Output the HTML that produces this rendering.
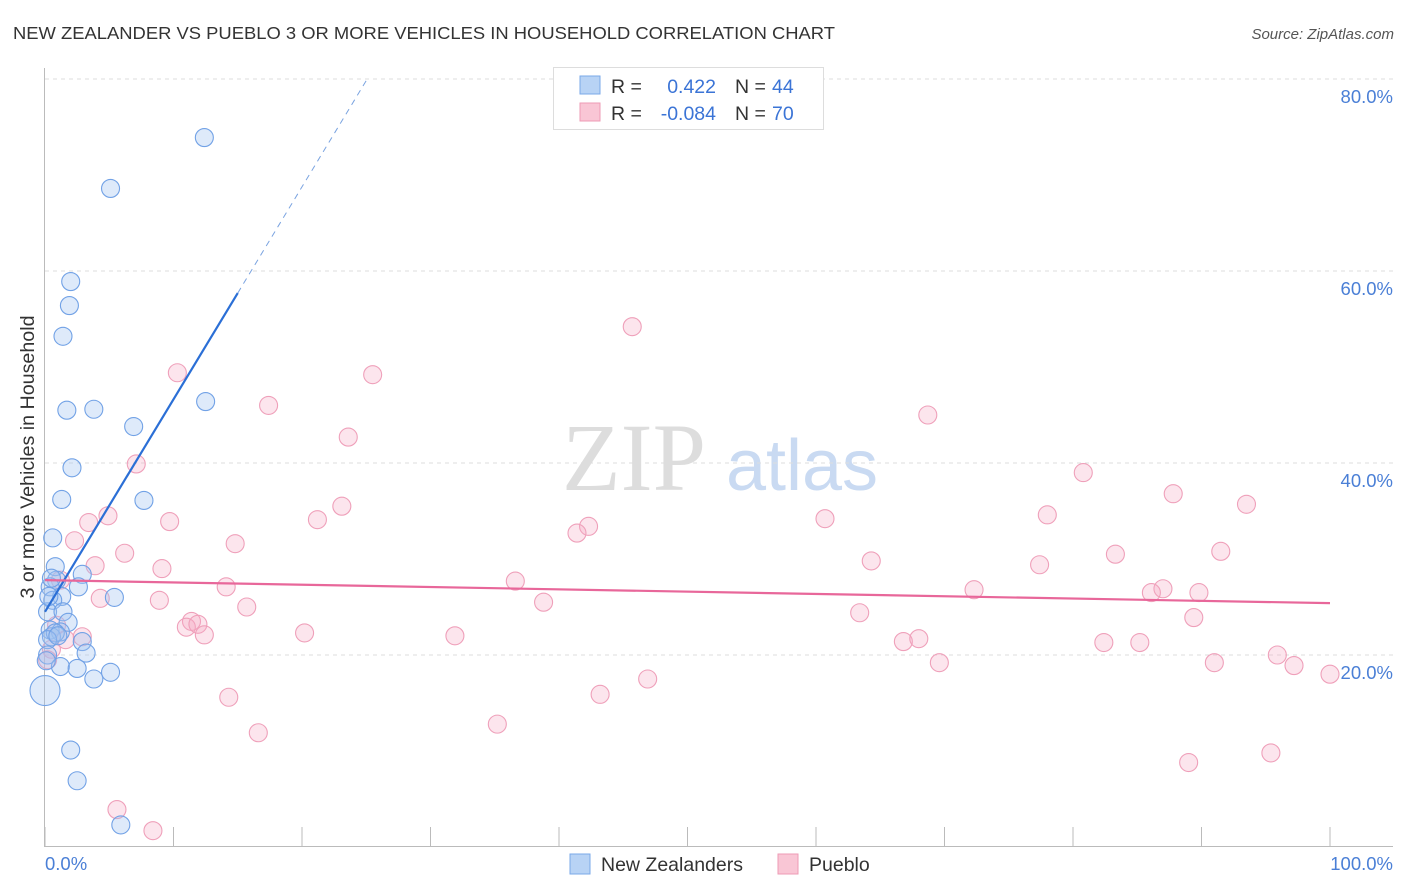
<!DOCTYPE html>
<html><head><meta charset="utf-8"><style>
body{margin:0;background:#fff;font-family:"Liberation Sans",sans-serif;}
svg{display:block}
</style></head><body>
<svg width="1406" height="892" xmlns="http://www.w3.org/2000/svg">
<text x="13" y="39" font-size="17.5" fill="#333" textLength="822" lengthAdjust="spacingAndGlyphs">NEW ZEALANDER VS PUEBLO 3 OR MORE VEHICLES IN HOUSEHOLD CORRELATION CHART</text>
<text x="1394" y="39" font-size="15" fill="#555" font-style="italic" text-anchor="end">Source: ZipAtlas.com</text>
<g>
<text x="634" y="490" font-size="96" fill="#ddd" font-family="Liberation Serif,serif" text-anchor="middle">ZIP</text>
<text x="802" y="490" font-size="72" fill="#c9daf2" text-anchor="middle">atlas</text>
</g>
<g id="grid"></g>
<line x1="44.5" y1="68" x2="44.5" y2="846" stroke="#bbb"/>
<line x1="44" y1="846.5" x2="1393" y2="846.5" stroke="#bbb"/>
<g id="xticks"></g>
<text transform="translate(34,457) rotate(-90)" font-size="19" fill="#333" text-anchor="middle" textLength="283" lengthAdjust="spacingAndGlyphs">3 or more Vehicles in Household</text>
<text x="45" y="870" font-size="18.5" fill="#4a7fd6">0.0%</text>
<text x="1393" y="870" font-size="18.5" fill="#4a7fd6" text-anchor="end">100.0%</text>
<g id="pts"></g>
<g id="lines"></g>
<g>
<rect x="553.5" y="67.5" width="270" height="62" fill="#fff" stroke="#ddd"/>
<rect x="580" y="76" width="20" height="18" fill="#b8d3f5" stroke="#7aa8e8"/>
<rect x="580" y="103" width="20" height="18" fill="#f9c6d5" stroke="#ee9bb5"/>
<text x="611" y="93" font-size="19.5" fill="#333">R =</text><text x="716" y="93" font-size="19.5" fill="#3b74d6" text-anchor="end">0.422</text>
<text x="735" y="93" font-size="19.5" fill="#333">N =</text><text x="772" y="93" font-size="19.5" fill="#3b74d6">44</text>
<text x="611" y="120" font-size="19.5" fill="#333">R =</text><text x="716" y="120" font-size="19.5" fill="#3b74d6" text-anchor="end">-0.084</text>
<text x="735" y="120" font-size="19.5" fill="#333">N =</text><text x="772" y="120" font-size="19.5" fill="#3b74d6">70</text>
</g>
<g>
<rect x="570" y="854" width="20" height="20" fill="#b8d3f5" stroke="#7aa8e8"/>
<text x="601" y="871" font-size="19.5" fill="#333">New Zealanders</text>
<rect x="778" y="854" width="20" height="20" fill="#f9c6d5" stroke="#ee9bb5"/>
<text x="809" y="871" font-size="19.5" fill="#333">Pueblo</text>
</g>
</svg>
<script>
const yTicks=[20,40,60,80];
const xTickVals=[0,10,20,30,40,50,60,70,80,90,100];
const blueX=[12.4,5.1,2.0,1.9,1.4,1.7,3.8,6.9,12.5,2.1,1.3,7.7,0.6,0.8,5.4,2.9,0.9,0.4,2.6,1.3,0.6,0.2,1.4,1.8,0.4,1.2,0.5,0.8,2.9,3.2,0.2,0.2,1.2,2.5,5.1,3.8,0.0,2.0,2.5,5.9,0.5,0.3,0.1,1.0];
const blueY=[73.9,68.6,58.9,56.4,53.2,45.5,45.6,43.8,46.4,39.5,36.2,36.1,32.2,29.2,26.0,28.4,27.8,27.1,27.1,26.1,25.7,24.5,24.5,23.4,22.6,22.4,21.9,22.3,21.4,20.2,21.6,20.0,18.8,18.6,18.2,17.5,16.3,10.1,6.9,2.3,28.0,26.1,19.4,22.0];
const blueR=[9,9,9,9,9,9,9,9,9,9,9,9,9,9,9,9,9,9,9,9,9,9,9,9,9,9,9,9,9,9,9,9,9,9,9,9,15,9,9,9,9,9,9,9];
const pinkX=[45.7,25.5,10.3,17.4,23.6,68.7,7.1,4.9,3.4,9.7,21.2,23.1,80.8,87.8,93.5,78.0,60.7,42.3,41.4,2.3,6.2,14.8,83.3,91.5,3.9,9.1,64.3,77.4,36.6,14.1,72.3,87.0,86.1,89.8,4.3,8.9,38.8,15.7,63.4,89.4,11.4,11.0,11.9,12.4,20.2,31.9,66.8,68.0,82.4,85.2,2.9,1.6,0.5,95.9,69.6,91.0,97.2,100.0,46.9,43.2,14.3,35.2,16.6,89.0,95.4,5.6,8.4,0.2,0.9,1.2];
const pinkY=[54.2,49.2,49.4,46.0,42.7,45.0,39.9,34.5,33.8,33.9,34.1,35.5,39.0,36.8,35.7,34.6,34.2,33.4,32.7,31.9,30.6,31.6,30.5,30.8,29.3,29.0,29.8,29.4,27.7,27.1,26.8,26.9,26.5,26.5,25.9,25.7,25.5,25.0,24.4,23.9,23.5,22.9,23.2,22.1,22.3,22.0,21.4,21.7,21.3,21.3,21.9,21.6,20.6,20.0,19.2,19.2,18.9,18.0,17.5,15.9,15.6,12.8,11.9,8.8,9.8,3.9,1.7,19.5,23.1,27.8];
const blueFit=[24.5,57.7];
const pinkFit=[27.8,25.4];
const NS="http://www.w3.org/2000/svg";
const X=v=>45+v*12.85, Y=v=>847-v*9.6;
function mk(t,a,p){const e=document.createElementNS(NS,t);for(const k in a)e.setAttribute(k,a[k]);p.appendChild(e);return e;}
const grid=document.getElementById('grid');
yTicks.forEach(t=>{
 const l=mk('line',{x1:45,x2:1393,y1:Y(t),y2:Y(t),stroke:'#ddd','stroke-dasharray':'4,4'},grid);
 
 
 const tx=mk('text',{x:1393,y:Y(t)+24,'font-size':18.5,fill:'#4a7fd6','text-anchor':'end'},grid);
 tx.textContent=t.toFixed(1)+'%';
 
 
});
const xt=document.getElementById('xticks');
xTickVals.forEach(v=>{
 const l=mk('line',{x1:X(v),x2:X(v),y1:827,y2:846,stroke:'#bbb'},xt);
 
 
});
const pts=document.getElementById('pts');
pinkX.forEach((v,i)=>{
 const c=mk('circle',{cx:X(v),cy:Y(pinkY[i]),r:9,fill:'rgba(246,170,195,0.3)',stroke:'#efa0ba','stroke-width':1.1},pts);
 
 
});
blueX.forEach((v,i)=>{
 const c=mk('circle',{cx:X(v),cy:Y(blueY[i]),r:blueR[i],fill:'rgba(160,195,240,0.35)',stroke:'#72a2e6','stroke-width':1.1},pts);
 
 
});
const ln=document.getElementById('lines');
const slope=(blueFit[1]-blueFit[0])/15;
let a=mk('line',{x1:X(0),y1:Y(blueFit[0]),x2:X(15),y2:Y(blueFit[1]),stroke:'#2b6fd6','stroke-width':2.2},ln);


a=mk('line',{x1:X(15),y1:Y(blueFit[1]),x2:X(25),y2:Y(blueFit[1]+slope*10),stroke:'#7aa3e0','stroke-width':1,'stroke-dasharray':'6,5'},ln);


a=mk('line',{x1:X(0),y1:Y(pinkFit[0]),x2:X(100),y2:Y(pinkFit[1]),stroke:'#e8679a','stroke-width':2.2},ln);


</script>
</body></html>
